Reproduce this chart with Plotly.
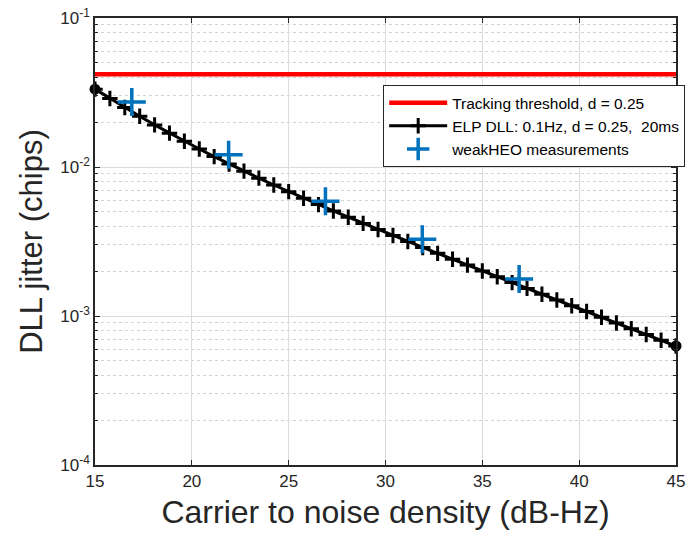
import plotly.graph_objects as go

# ---- data ----
cn0 = [15.000, 15.769, 16.538, 17.308, 18.077, 18.846, 19.615, 20.385, 21.154, 21.923,
       22.692, 23.462, 24.231, 25.000, 25.769, 26.538, 27.308, 28.077, 28.846, 29.615,
       30.385, 31.154, 31.923, 32.692, 33.462, 34.231, 35.000, 35.769, 36.538, 37.308,
       38.077, 38.846, 39.615, 40.385, 41.154, 41.923, 42.692, 43.462, 44.231, 45.000]
elp_jitter = [0.03331, 0.02885, 0.02508, 0.02189, 0.01917, 0.01687, 0.01490, 0.01320,
              0.01174, 0.01047, 0.009377, 0.008417, 0.007572, 0.006833, 0.006175, 0.005591,
              0.005069, 0.004603, 0.004183, 0.003809, 0.003470, 0.003163, 0.002885, 0.002633,
              0.002403, 0.002196, 0.002006, 0.001834, 0.001676, 0.001532, 0.001401, 0.001281,
              0.001172, 0.001073, 0.000981, 0.000898, 0.000821, 0.000751, 0.000688, 0.000629]
thr_x = [15, 45]
thr_y = [0.042, 0.042]
meas_cn0 = [16.9, 21.9, 26.9, 31.9, 36.9]
meas_jitter = [0.0273, 0.0121, 0.0059, 0.00328, 0.00177]

x_ticks = [15, 20, 25, 30, 35, 40, 45]
y_ticks = [1e-4, 1e-3, 1e-2, 1e-1]
y_ticktext = ["10<sup>-4</sup>", "10<sup>-3</sup>", "10<sup>-2</sup>", "10<sup>-1</sup>"]
y_minor = [m * 10.0 ** e for e in (-4, -3, -2) for m in range(2, 10)]

names = ["Tracking threshold, d = 0.25",
         "ELP DLL: 0.1Hz, d = 0.25,\u00a0 20ms",
         "weakHEO measurements"]

FONT = "Liberation Sans, Arial, sans-serif"
AX = "#262626"

fig = go.Figure()
fig.add_trace(go.Scatter(x=thr_x, y=thr_y, mode="lines", name=names[0],
                         line=dict(color="#FF0000", width=4.5)))
fig.add_trace(go.Scatter(x=cn0, y=elp_jitter, mode="lines+markers", name=names[1],
                         line=dict(color="black", width=3),
                         marker=dict(symbol="cross-thin", size=11, color="black",
                                     line=dict(color="black", width=3))))
fig.add_trace(go.Scatter(x=[cn0[0], cn0[-1]], y=[elp_jitter[0], elp_jitter[-1]],
                         mode="markers", showlegend=False, cliponaxis=False,
                         marker=dict(symbol="circle", size=11, color="black")))
fig.add_trace(go.Scatter(x=meas_cn0, y=meas_jitter, mode="markers", name=names[2],
                         marker=dict(symbol="cross-thin", size=20, color="#0072BD",
                                     line=dict(color="#0072BD", width=3.5))))

fig.update_layout(
    width=689, height=537,
    margin=dict(l=95, r=13, t=18, b=72, autoexpand=False),
    paper_bgcolor="white", plot_bgcolor="white",
    font=dict(family=FONT, color=AX),
    legend=dict(x=0.496, y=0.85, xanchor="left", yanchor="top",
                bgcolor="white", bordercolor=AX, borderwidth=1,
                font=dict(size=15.5, color="black", family=FONT),
                itemwidth=58),
    xaxis=dict(range=[15, 45], tickvals=x_ticks, ticks="inside", ticklen=5,
               tickcolor=AX, showline=True, linecolor=AX, linewidth=1.5, mirror="ticks",
               showgrid=True, gridcolor="#dcdcdc", gridwidth=1, zeroline=False,
               tickfont=dict(size=17, color=AX),
               title=dict(text="Carrier to noise density (dB-Hz)",
                          font=dict(size=32, color=AX), standoff=10)),
    yaxis=dict(type="log", range=[-4, -1], tickvals=y_ticks, ticktext=y_ticktext,
               ticks="inside", ticklen=5, tickcolor=AX, showline=True, linecolor=AX,
               linewidth=1.5, mirror="ticks", showgrid=True, gridcolor="#dcdcdc",
               zeroline=False, tickfont=dict(size=17, color=AX),
               minor=dict(tickmode="array", tickvals=y_minor, ticks="inside", ticklen=3,
                          tickcolor=AX, showgrid=True, gridcolor="#d2d2d2",
                          griddash="dot", gridwidth=1),
               title=dict(text="DLL jitter (chips)", font=dict(size=31, color=AX),
                          standoff=8)),
)

fig.write_html("out.html")
